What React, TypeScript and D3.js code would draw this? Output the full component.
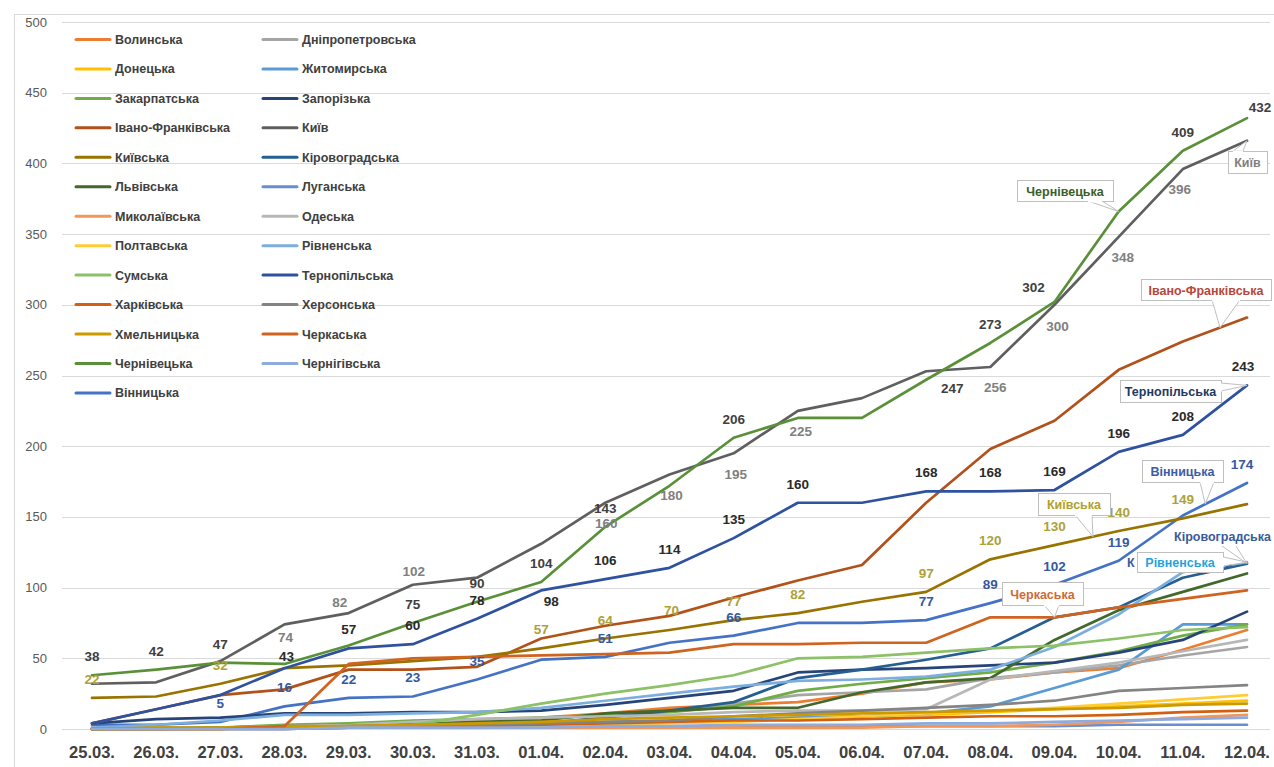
import React from 'react';
import * as d3 from 'd3';

// ---- data: cumulative COVID-19 cases by region ----
const DATES = ['25.03.', '26.03.', '27.03.', '28.03.', '29.03.', '30.03.', '31.03.', '01.04.', '02.04.', '03.04.',
  '04.04.', '05.04.', '06.04.', '07.04.', '08.04.', '09.04.', '10.04.', '11.04.', '12.04.'];

const Y_TICKS = [0, 50, 100, 150, 200, 250, 300, 350, 400, 450, 500];

const VINNYTSKA = [3, 3, 5, 16, 22, 23, 35, 49, 51, 61, 66, 75, 75, 77, 89, 102, 119, 151, 174];
const VOLYNSKA = [0, 1, 1, 1, 2, 3, 5, 8, 11, 15, 17, 19, 25, 33, 35, 40, 43, 56, 70];
const DNIPROPETROVSKA = [1, 1, 1, 2, 3, 4, 5, 7, 10, 13, 18, 24, 26, 28, 36, 40, 45, 52, 58];
const DONETSKA = [0, 1, 1, 1, 1, 2, 2, 3, 4, 5, 6, 8, 9, 10, 12, 14, 16, 18, 20];
const ZHYTOMYRSKA = [0, 0, 1, 1, 1, 2, 3, 4, 5, 6, 7, 8, 9, 11, 16, 29, 42, 74, 74];
const ZAKARPATSKA = [0, 0, 1, 3, 4, 6, 7, 8, 10, 12, 16, 27, 32, 36, 40, 47, 55, 66, 74];
const ZAPORIZKA = [4, 7, 8, 11, 11, 12, 12, 13, 17, 22, 27, 40, 42, 43, 45, 47, 54, 63, 83];
const IVANO_FRANKIVSKA = [4, 14, 24, 28, 42, 42, 44, 64, 73, 80, 93, 105, 116, 160, 198, 218, 254, 274, 291];
const KYIV = [32, 33, 48, 74, 82, 102, 107, 131, 160, 180, 195, 225, 234, 253, 256, 300, 348, 396, 416];
const KYIVSKA = [22, 23, 32, 43, 45, 48, 51, 57, 64, 70, 77, 82, 90, 97, 120, 130, 140, 149, 159];
const KIROVOHRADSKA = [0, 0, 0, 0, 1, 1, 2, 4, 8, 13, 19, 36, 42, 49, 57, 79, 86, 107, 117];
const LVIVSKA = [0, 1, 1, 2, 3, 4, 5, 6, 11, 13, 15, 15, 26, 33, 36, 63, 84, 97, 110];
const LUHANSKA = [0, 0, 0, 0, 1, 1, 1, 1, 1, 1, 1, 2, 2, 2, 2, 2, 3, 3, 3];
const MYKOLAIVSKA = [0, 0, 0, 0, 1, 1, 1, 1, 1, 1, 1, 1, 1, 2, 2, 3, 5, 8, 10];
const ODESKA = [0, 1, 1, 2, 3, 5, 7, 8, 9, 10, 12, 13, 13, 14, 35, 41, 47, 55, 63];
const POLTAVSKA = [0, 0, 0, 1, 1, 1, 1, 2, 3, 4, 5, 7, 9, 11, 13, 15, 18, 21, 24];
const RIVNENSKA = [1, 3, 6, 10, 10, 11, 12, 15, 20, 25, 30, 34, 35, 37, 42, 58, 81, 111, 118];
const SUMSKA = [0, 0, 1, 1, 2, 3, 10, 18, 25, 31, 38, 50, 51, 54, 57, 59, 64, 70, 72];
const TERNOPILSKA = [4, 14, 24, 43, 57, 60, 78, 98, 106, 114, 135, 160, 160, 168, 168, 169, 196, 208, 243];
const KHARKIVSKA = [0, 0, 0, 1, 1, 1, 2, 3, 4, 5, 6, 6, 7, 8, 9, 9, 10, 12, 13];
const KHERSONSKA = [0, 0, 1, 1, 2, 3, 3, 4, 5, 6, 9, 11, 13, 15, 17, 20, 27, 29, 31];
const KHMELNYTSKA = [0, 1, 1, 2, 2, 3, 4, 5, 7, 8, 9, 10, 11, 12, 13, 14, 15, 17, 18];
const CHERKASKA = [0, 0, 0, 2, 46, 50, 51, 52, 53, 54, 60, 60, 61, 61, 79, 79, 86, 92, 98];
const CHERNIVETSKA = [38, 42, 47, 46, 59, 75, 90, 104, 143, 172, 206, 220, 220, 247, 273, 302, 366, 409, 432];
const CHERNIHIVSKA = [0, 0, 0, 0, 1, 1, 1, 1, 2, 2, 3, 3, 3, 4, 4, 5, 6, 7, 8];

// drawing order (first drawn lies underneath)
const SERIES = [
  { name: 'Вінницька', values: VINNYTSKA, color: '#4472C4' },
  { name: 'Волинська', values: VOLYNSKA, color: '#ED7D31' },
  { name: 'Дніпропетровська', values: DNIPROPETROVSKA, color: '#A5A5A5' },
  { name: 'Донецька', values: DONETSKA, color: '#FFC000' },
  { name: 'Житомирська', values: ZHYTOMYRSKA, color: '#5B9BD5' },
  { name: 'Закарпатська', values: ZAKARPATSKA, color: '#70AD47' },
  { name: 'Запорізька', values: ZAPORIZKA, color: '#264478' },
  { name: 'Івано-Франківська', values: IVANO_FRANKIVSKA, color: '#B2521A' },
  { name: 'Київ', values: KYIV, color: '#5F5F5F' },
  { name: 'Київська', values: KYIVSKA, color: '#997300' },
  { name: 'Кіровоградська', values: KIROVOHRADSKA, color: '#255E91' },
  { name: 'Львівська', values: LVIVSKA, color: '#43682B' },
  { name: 'Луганська', values: LUHANSKA, color: '#698ED0' },
  { name: 'Миколаївська', values: MYKOLAIVSKA, color: '#F1975A' },
  { name: 'Одеська', values: ODESKA, color: '#B7B7B7' },
  { name: 'Полтавська', values: POLTAVSKA, color: '#FFCD33' },
  { name: 'Рівненська', values: RIVNENSKA, color: '#7CAFDD' },
  { name: 'Сумська', values: SUMSKA, color: '#8CC168' },
  { name: 'Тернопільська', values: TERNOPILSKA, color: '#2F52A0' },
  { name: 'Харківська', values: KHARKIVSKA, color: '#D26012' },
  { name: 'Херсонська', values: KHERSONSKA, color: '#848484' },
  { name: 'Хмельницька', values: KHMELNYTSKA, color: '#CC9A00' },
  { name: 'Черкаська', values: CHERKASKA, color: '#CF6320' },
  { name: 'Чернівецька', values: CHERNIVETSKA, color: '#5A9138' },
  { name: 'Чернігівська', values: CHERNIHIVSKA, color: '#8FAADC' },
];

const LEGEND_ORDER = [
  'Волинська', 'Дніпропетровська', 'Донецька', 'Житомирська', 'Закарпатська', 'Запорізька',
  'Івано-Франківська', 'Київ', 'Київська', 'Кіровоградська', 'Львівська', 'Луганська',
  'Миколаївська', 'Одеська', 'Полтавська', 'Рівненська', 'Сумська', 'Тернопільська',
  'Харківська', 'Херсонська', 'Хмельницька', 'Черкаська', 'Чернівецька', 'Чернігівська', 'Вінницька',
];

// which points carry a value label
const LABEL_SETS = [
  { series: 'Чернівецька', color: '#404040', idx: [0, 1, 2, 5, 6, 7, 8, 10, 13, 14, 15, 17, 18] },
  { series: 'Київ', color: '#808080', idx: [3, 4, 5, 8, 9, 10, 11, 14, 15, 16, 17] },
  { series: 'Тернопільська', color: '#2A2A2A', idx: [3, 4, 5, 6, 7, 8, 9, 10, 11, 13, 14, 15, 16, 17, 18] },
  { series: 'Вінницька', color: '#3558A0', idx: [2, 3, 4, 5, 6, 8, 10, 13, 14, 15, 16, 18] },
  { series: 'Київська', color: '#ADA236', idx: [0, 2, 7, 8, 9, 10, 11, 13, 14, 15, 16, 17] },
];

// label placement tweaks: [dx, dy] relative to the point (default sits above)
const LABEL_SHIFT: Record<string, [number, number]> = {
  'Чернівецька|13': [26, 13],
  'Чернівецька|15': [-21, -10],
  'Чернівецька|18': [13, -6],
  'Київ|3': [1, 18],
  'Київ|4': [-9, -6],
  'Київ|5': [1, -9],
  'Київ|8': [1, 25],
  'Київ|9': [2, 26],
  'Київ|10': [2, 26],
  'Київ|11': [3, 25],
  'Київ|14': [5, 25],
  'Київ|15': [3, 26],
  'Київ|16': [4, 25],
  'Київ|17': [-3, 25],
  'Тернопільська|3': [2, -7],
  'Тернопільська|7': [10, 16],
  'Тернопільська|18': [-4, -14],
  'Вінницька|18': [-5, -14],
  'Київська|9': [2, -15],
};

// callout boxes: anchored on a series at fractional date index
const CALLOUTS = [
  { series: 'Чернівецька', at: 16, color: '#3B5E2B', box: [1017, 180, 96, 21], base: [[1088, 201], [1102, 201]] },
  { series: 'Київ', at: 18, color: '#7F7F7F', box: [1228, 151, 39, 22], base: [[1233, 151], [1243, 151]] },
  { series: 'Івано-Франківська', at: 17.58, color: '#B5473A', box: [1141, 279, 130, 21], base: [[1212, 300], [1240, 300]] },
  { series: 'Тернопільська', at: 18, color: '#1F3864', box: [1120, 380, 101, 22], base: [[1221, 383], [1221, 391]] },
  { series: 'Вінницька', at: 17.35, color: '#3D5CA5', box: [1142, 460, 81, 22], base: [[1200, 482], [1214, 482]] },
  { series: 'Київська', at: 15.6, color: '#B3A126', box: [1038, 493, 72, 22], base: [[1075, 515], [1092, 515]] },
  { series: 'Рівненська', at: 18, color: '#1FA5DA', box: [1137, 552, 86, 20], base: [[1223, 557], [1223, 566]] },
  { series: 'Черкаська', at: 15, color: '#CF6A33', box: [1002, 582, 81, 23], base: [[1044, 605], [1059, 605]] },
];

const FONT = '"Liberation Sans", Arial, sans-serif';

export default function App() {
  const x = d3.scalePoint<string>().domain(DATES).range([92, 1247]);
  const y = d3.scaleLinear().domain([0, 500]).range([729, 22]);
  const line = d3.line<number>().x((_, i) => x(DATES[i]) as number).y((v) => y(v));
  const byName = new Map(SERIES.map((s) => [s.name, s]));

  const pointAt = (name: string, t: number): [number, number] => {
    const s = byName.get(name)!;
    const i0 = Math.floor(t);
    const i1 = Math.min(i0 + 1, DATES.length - 1);
    const f = t - i0;
    const x0 = x(DATES[i0]) as number;
    const x1 = x(DATES[i1]) as number;
    return [x0 + f * (x1 - x0), y(s.values[i0] + f * (s.values[i1] - s.values[i0]))];
  };

  const kirTarget = pointAt('Кіровоградська', 18);

  return (
    <div style={{ position: 'fixed', left: 0, top: 0 }}>
      <svg width={1274} height={767} style={{ display: 'block', background: '#fff', fontFamily: FONT }}>
        <rect x={14.5} y={14.5} width={1270} height={770} fill="none" stroke="#D9D9D9" />

        {/* horizontal grid + y labels */}
        {Y_TICKS.map((t) => (
          <g key={t}>
            <line x1={62} x2={1270} y1={Math.round(y(t)) + 0.5} y2={Math.round(y(t)) + 0.5} stroke="#DADADA" strokeWidth={1} />
            <text x={47} y={y(t) + 4.5} textAnchor="end" fontSize={13} fill="#595959">{t}</text>
          </g>
        ))}

        {/* x labels */}
        {DATES.map((d) => (
          <text key={d} x={x(d)} y={758} textAnchor="middle" fontSize={16.5} fontWeight="bold" fill="#404040">{d}</text>
        ))}

        {/* series */}
        {SERIES.map((s) => (
          <path key={s.name} d={line(s.values) || ''} fill="none" stroke={s.color} strokeWidth={2.7}
            strokeLinejoin="round" strokeLinecap="round" />
        ))}

        {/* value labels */}
        {LABEL_SETS.map((ls) => {
          const s = byName.get(ls.series)!;
          return ls.idx.map((i) => {
            const [dx, dy] = LABEL_SHIFT[`${ls.series}|${i}`] || [0, -14];
            return (
              <text key={`${ls.series}-${i}`} x={(x(DATES[i]) as number) + dx} y={y(s.values[i]) + dy}
                textAnchor="middle" fontSize={13.5} fontWeight="bold" fill={ls.color}>
                {s.values[i]}
              </text>
            );
          });
        })}

        {/* legend */}
        {LEGEND_ORDER.map((name, k) => {
          const s = byName.get(name)!;
          const col = k % 2;
          const row = Math.floor(k / 2);
          const lx = col === 0 ? 76 : 263;
          const ly = 39.5 + row * 29.45;
          return (
            <g key={name}>
              <line x1={lx} x2={lx + 34} y1={ly} y2={ly} stroke={s.color} strokeWidth={3} strokeLinecap="round" />
              <text x={lx + 39} y={ly + 4.5} fontSize={12.5} fontWeight="bold" fill="#404040">{name}</text>
            </g>
          );
        })}

        {/* ends of a second Кіровоградська label peeking out around the Рівненська box */}
        <text x={1127} y={567} fontSize={12.5} fontWeight="bold" fill="#3A5A9A">К</text>
        <text x={1225} y={567} fontSize={12.5} fontWeight="bold" fill="#3A5A9A">а</text>

        {/* callouts */}
        {CALLOUTS.map((c) => {
          const [tx, ty] = pointAt(c.series, c.at);
          const [bx, by, bw, bh] = c.box;
          const [b1, b2] = c.base;
          const wedge = `M${b1[0]},${b1[1]}L${tx},${ty}L${b2[0]},${b2[1]}Z`;
          return (
            <g key={c.series}>
              <path d={wedge} fill="#fff" stroke="#BFBFBF" strokeWidth={1} />
              <rect x={bx + 0.5} y={by + 0.5} width={bw} height={bh} fill="#fff" stroke="#BFBFBF" strokeWidth={1} />
              <line x1={b1[0]} y1={b1[1] + 0.5} x2={b2[0]} y2={b2[1] + 0.5} stroke="#fff" strokeWidth={2} />
              <text x={bx + bw / 2} y={by + bh / 2 + 5} textAnchor="middle" fontSize={12.5} fontWeight="bold" fill={c.color}>
                {c.series}
              </text>
            </g>
          );
        })}

        {/* Кіровоградська callout at the right edge */}
        <path d={`M1222,546L${kirTarget[0]},${kirTarget[1]}L1236,546`} fill="none" stroke="#BFBFBF" strokeWidth={1} />
        <text x={1271} y={541} textAnchor="end" fontSize={12.5} fontWeight="bold" fill="#3A5A9A">Кіровоградська</text>
      </svg>
    </div>
  );
}
